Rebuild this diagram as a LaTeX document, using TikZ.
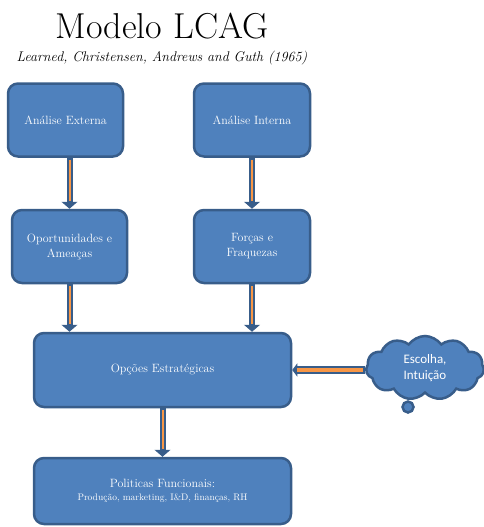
\documentclass[tikz,border=0pt]{standalone}
\usepackage{fontspec}
\newfontfamily\cloudfont{Carlito}
\usetikzlibrary{shapes.symbols, arrows.meta, positioning}

\definecolor{boxfill}{HTML}{4F81BD}
\definecolor{boxedge}{HTML}{385D8A}
\definecolor{flowcore}{HTML}{F79646}

\tikzset{
  box/.style={draw=boxedge, fill=boxfill, line width=2.5pt, rounded corners=10pt,
    text=white, align=center, inner sep=0pt, font=\fontsize{12}{15}\selectfont},
  cloudy/.style={cloud, cloud puffs=11, cloud puff arc=110, aspect=1.9,
    draw=boxedge, fill=boxfill, line width=2.5pt, text=white, align=center, inner sep=0pt,
    minimum width=118pt, minimum height=64pt, font=\cloudfont\fontsize{13}{16}\selectfont},
  flow/.style={draw=boxedge, line width=6pt, -{Triangle[width=16pt,length=7pt,line width=1pt]},
    postaction={draw=flowcore, line width=2pt, -, shorten >=8pt, shorten <=2pt}},
  sideflow/.style={draw=boxedge, line width=8pt, -{Triangle[width=13pt,length=5pt,line width=1pt]},
    postaction={draw=flowcore, line width=4pt, -, shorten >=5pt, shorten <=2pt}}
}

\begin{document}
\begin{tikzpicture}[x=1pt, y=-1pt]
    \useasboundingbox (0,0) rectangle (483,527);

    % Title
    \node[font=\fontsize{36}{42}\selectfont] (title) at (162,26) {Modelo LCAG};
    \node[font=\itshape\fontsize{14}{17}\selectfont] (authors) at (162,58) {Learned, Christensen, Andrews and Guth (1965)};

    % Analysis boxes
    \node[box, minimum width=115pt, minimum height=73pt] (ext) at (65.5,120) {Análise Externa};
    \node[box, minimum width=116pt, minimum height=73pt] (int) at (252,120) {Análise Interna};
    \node[box, minimum width=115pt, minimum height=73pt] (opo) at (69.5,246.5) {Oportunidades e\\Ameaças};
    \node[box, minimum width=116pt, minimum height=73pt] (for) at (252,246.5) {Forças e\\Fraquezas};

    % Strategy and policies
    \node[box, minimum width=257pt, minimum height=74pt] (opc) at (162.5,370) {Opções Estratégicas};
    \node[box, minimum width=257pt, minimum height=66pt] (pol) at (162.5,491)
        {Politicas Funcionais:\\[-2pt]{\fontsize{9.5}{12}\selectfont Produção, marketing, I\&D, finanças, RH}};

    % Choice cloud
    \node[cloudy] (esc) at (425,368) {Escolha,\\Intuição};
    \draw[boxedge, fill=boxfill, line width=2.5pt] (408,407) circle (5.5pt);

    % Flows
    \draw[flow] (opo.north |- ext.south) -- (opo.north);
    \draw[flow] (int.south) -- (for.north);
    \draw[flow] (opo.south) -- (opo.south |- opc.north);
    \draw[flow] (for.south) -- (for.south |- opc.north);
    \draw[flow] (opc.south) -- (pol.north);
    \draw[sideflow] (opc.east -| esc.west) -- (opc.east);

\end{tikzpicture}
\end{document}
